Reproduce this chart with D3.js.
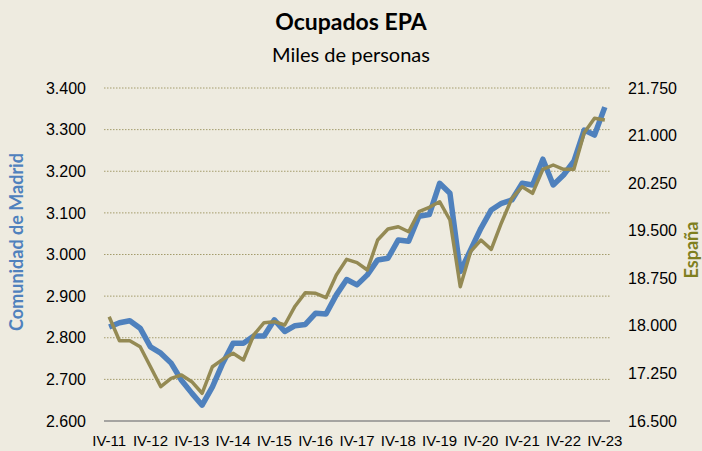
<!DOCTYPE html>
<html>
<head>
<meta charset="utf-8">
<script src="https://cdn.jsdelivr.net/npm/d3@7"></script>
<style>
  body { margin: 0; background: #eeebe0; }
  svg { display: block; font-family: Lato, "Open Sans", sans-serif; }
</style>
</head>
<body>
<svg id="chart"></svg>
<script>
//// DATA

// quarters IV-11 .. IV-23 (49 points), only the IV ones carry a label
const quarters = [];
for (let y = 11; y <= 23; y++) {
    if (y === 11) { quarters.push("IV-11"); continue; }
    ["I", "II", "III", "IV"].forEach(q => quarters.push(q + "-" + y));
}

const madrid = [
    2826, 2836, 2841, 2823, 2778, 2763, 2739, 2698, 2667, 2638,
    2682, 2739, 2787, 2787, 2804, 2804, 2843, 2815, 2829, 2832,
    2859, 2857, 2903, 2940, 2927, 2951, 2987, 2991, 3035, 3032,
    3092, 3096, 3171, 3147, 2959, 3011, 3063, 3107, 3123, 3131,
    3171, 3167, 3229, 3167, 3191, 3224, 3299, 3287, 3354
];

const espana = [
    18144, 17766, 17766, 17671, 17356, 17041, 17173, 17225, 17120, 16937,
    17356, 17472, 17567, 17462, 17856, 18050, 18066, 18013, 18310, 18523,
    18513, 18444, 18802, 19049, 18996, 18880, 19353, 19527, 19563, 19484,
    19800, 19869, 19957, 19669, 18617, 19169, 19353, 19206, 19630, 20011,
    20194, 20090, 20468, 20536, 20468, 20468, 21045, 21272, 21245
];

const leftTicks = [2600, 2700, 2800, 2900, 3000, 3100, 3200, 3300, 3400];
const rightTicks = [16500, 17250, 18000, 18750, 19500, 20250, 21000, 21750];

//// SETTINGS
const width = 702;
const height = 451;
const margin = { top: 88, right: 92, bottom: 30, left: 104 };

const svg = d3.select("#chart").attr("width", width).attr("height", height);

const fmt = d3.formatLocale({ decimal: ",", thousands: ".", grouping: [3], currency: ["", ""] }).format(",.0f");

const x = d3.scaleBand()
    .domain(quarters)
    .range([margin.left, width - margin.right]);

const yL = d3.scaleLinear().domain([2600, 3400]).range([height - margin.bottom, margin.top]);
const yR = d3.scaleLinear().domain([16500, 21750]).range([height - margin.bottom, margin.top]);

const cx = (d, i) => x(quarters[i]) + x.bandwidth() / 2;

//// DRAW

// background
svg.append("rect").attr("width", width).attr("height", height).attr("fill", "#eeebe0");

// titles
svg.append("text").attr("x", 351).attr("y", 30).attr("text-anchor", "middle")
    .style("font-size", "23px").style("font-weight", "bold").attr("fill", "#000")
    .text("Ocupados EPA");
svg.append("text").attr("x", 351).attr("y", 62).attr("text-anchor", "middle")
    .style("font-size", "20px").attr("fill", "#000")
    .text("Miles de personas");

// gridlines
svg.append("g").selectAll("line")
    .data(leftTicks.slice(1))
    .enter().append("line")
    .attr("x1", margin.left).attr("x2", width - margin.right)
    .attr("y1", d => yL(d)).attr("y2", d => yL(d))
    .attr("stroke", "#a49c6c").attr("stroke-width", 1)
    .attr("stroke-dasharray", "1.5,1.5");

// bottom axis line
svg.append("line")
    .attr("x1", margin.left).attr("x2", width - margin.right)
    .attr("y1", yL(2600)).attr("y2", yL(2600))
    .attr("stroke", "#8c8c8c").attr("stroke-width", 1.3);

// left axis
const leftAxis = d3.axisLeft(yL).tickValues(leftTicks).tickFormat(fmt).tickSize(0).tickPadding(18);
svg.append("g").attr("transform", `translate(${margin.left},0)`).call(leftAxis)
    .call(g => g.select(".domain").remove())
    .selectAll("text").style("font-size", "16px").attr("fill", "#000").attr("font-family", null);

// right axis
const rightAxis = d3.axisRight(yR).tickValues(rightTicks).tickFormat(fmt).tickSize(0).tickPadding(18);
svg.append("g").attr("transform", `translate(${width - margin.right},0)`).call(rightAxis)
    .call(g => g.select(".domain").remove())
    .selectAll("text").style("font-size", "16px").attr("fill", "#000").attr("font-family", null);

// bottom labels (every 4th quarter)
const bottomAxis = d3.axisBottom(x)
    .tickValues(quarters.filter(q => q.startsWith("IV-")))
    .tickSize(0).tickPadding(14);
svg.append("g").attr("transform", `translate(0,${yL(2600)})`).call(bottomAxis)
    .call(g => g.select(".domain").remove())
    .selectAll("text").style("font-size", "15px").attr("fill", "#000").attr("font-family", null);

// axis titles
svg.append("text")
    .attr("transform", "translate(23,242) rotate(-90)")
    .attr("text-anchor", "middle")
    .style("font-size", "18px").style("font-weight", "bold")
    .attr("fill", "#4f81bd")
    .text("Comunidad de Madrid");
svg.append("text")
    .attr("transform", "translate(698,250) rotate(-90)")
    .attr("text-anchor", "middle")
    .style("font-size", "18px").style("font-weight", "bold")
    .attr("fill", "#7f7f1f")
    .text("España");

// lines
const lineL = d3.line().x(cx).y(d => yL(d));
const lineR = d3.line().x(cx).y(d => yR(d));

svg.append("path").datum(madrid)
    .attr("d", lineL)
    .attr("fill", "none")
    .attr("stroke", "#4f81bd")
    .attr("stroke-width", 5.5)
    .attr("stroke-linejoin", "round");

svg.append("path").datum(espana)
    .attr("d", lineR)
    .attr("fill", "none")
    .attr("stroke", "#948a54")
    .attr("stroke-width", 3.5)
    .attr("stroke-linejoin", "round");
</script>
</body>
</html>
